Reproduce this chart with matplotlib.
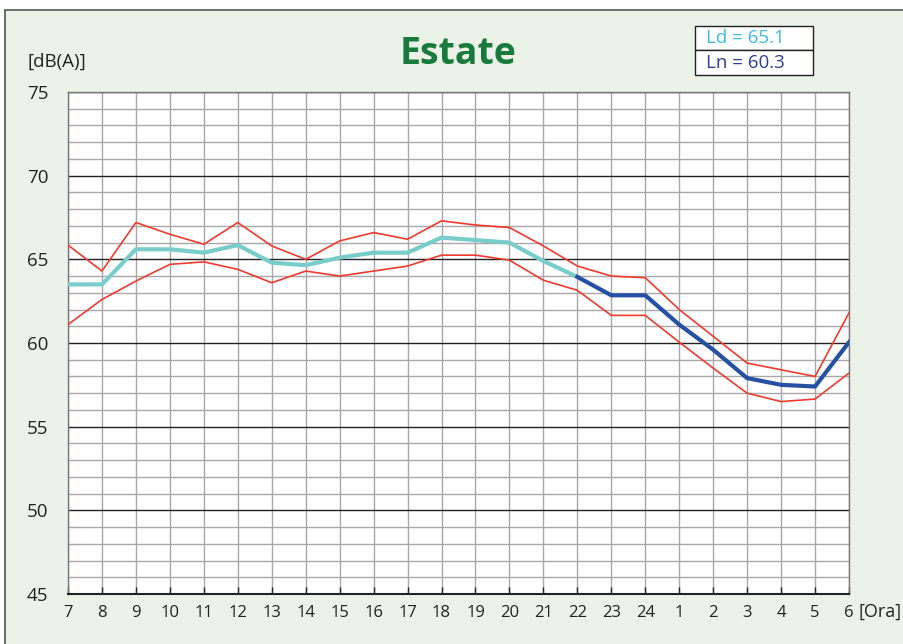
import matplotlib.pyplot as plt
from matplotlib.patches import Rectangle
from matplotlib.ticker import MultipleLocator
from matplotlib import font_manager

# hours on the x axis (day 7-22, night 22-6)
hours = ["7", "8", "9", "10", "11", "12", "13", "14", "15", "16", "17", "18",
         "19", "20", "21", "22", "23", "24", "1", "2", "3", "4", "5", "6"]

# mean hourly level
mean_level = [63.5, 63.5, 65.6, 65.6, 65.4, 65.85, 64.8, 64.65, 65.1, 65.4, 65.4, 66.3,
              66.15, 66.0, 64.9, 63.95, 62.85, 62.85, 61.1, 59.6, 57.9, 57.5, 57.4, 60.05]
# upper and lower band
upper = [65.85, 64.3, 67.2, 66.5, 65.9, 67.2, 65.8, 65.0, 66.1, 66.6, 66.2, 67.3,
         67.05, 66.9, 65.8, 64.6, 64.0, 63.9, 62.0, 60.4, 58.8, 58.4, 58.0, 61.8]
lower = [61.1, 62.6, 63.7, 64.7, 64.85, 64.4, 63.6, 64.3, 64.0, 64.3, 64.6, 65.25,
         65.25, 64.95, 63.75, 63.15, 61.65, 61.65, 60.05, 58.5, 57.0, 56.5, 56.65, 58.2]

ld_text = "Ld = 65.1"
ln_text = "Ln = 60.3"

names = {f.name for f in font_manager.fontManager.ttflist}
base_font = "Open Sans" if "Open Sans" in names else "DejaVu Sans"
title_font = "Liberation Sans Narrow" if "Liberation Sans Narrow" in names else base_font
plt.rcParams['font.family'] = base_font

bg = "#ebf3e8"
fig = plt.figure(figsize=(9.04, 6.44), dpi=100)
fig.patch.set_facecolor("white")
# outer frame
fig.patches.append(Rectangle((5 / 904, -0.01), 1.0, 1 - 10 / 644 + 0.01,
                             transform=fig.transFigure, facecolor=bg,
                             edgecolor="#555555", linewidth=1.2, zorder=-5))

ax = fig.add_axes([68 / 904, 50 / 644, 781 / 904, 502 / 644])
ax.set_zorder(2)
ax.set_facecolor("white")

x = list(range(len(hours)))
day_end = hours.index("22")

ax.plot(x, upper, color="#f03a2e", linewidth=1.2, zorder=3)
ax.plot(x, lower, color="#f03a2e", linewidth=1.2, zorder=3)
ax.plot(x[:day_end + 1], mean_level[:day_end + 1], color="#78cdcb", linewidth=3, zorder=4)
ax.plot(x[day_end:], mean_level[day_end:], color="#2550a3", linewidth=3, zorder=4)

ax.set_xlim(0, len(hours) - 1)
ax.set_ylim(45, 75)
ax.set_xticks(x)
ax.set_xticklabels(hours)
ax.yaxis.set_major_locator(MultipleLocator(5))
ax.yaxis.set_minor_locator(MultipleLocator(1))

ax.grid(which="minor", axis="y", color="#a8a8a8", linewidth=1.0, zorder=1)
ax.grid(which="major", axis="y", color="#222222", linewidth=1.0, zorder=2)
ax.grid(which="major", axis="x", color="#a8a8a8", linewidth=1.0, zorder=1)

ax.tick_params(axis="x", direction="in", length=5, width=1, color="#222222",
               pad=8, labelsize=12, labelcolor="#222222")
ax.tick_params(axis="y", which="both", length=0, pad=14, labelsize=13.5,
               labelcolor="#222222")

for s in ["top", "right", "left"]:
    ax.spines[s].set_color("#777777")
    ax.spines[s].set_linewidth(1.0)
ax.spines["bottom"].set_color("#222222")
ax.spines["bottom"].set_linewidth(1.5)

fig.text(28 / 904, 1 - 62 / 644, "[dB(A)]", fontsize=13.5, color="#222222",
         ha="left", va="center")
fig.text(859 / 904, 1 - 612 / 644, "[Ora]", fontsize=13, color="#222222",
         ha="left", va="center")

fig.text(458 / 904, 1 - 54 / 644, "Estate", fontsize=27, fontweight="bold",
         family=title_font, color="#187a3c", ha="center", va="center")

# Ld / Ln box
bx0, bx1 = 695 / 904, 813 / 904
by_top, by_mid, by_bot = 1 - 26 / 644, 1 - 50 / 644, 1 - 75 / 644
fig.patches.append(Rectangle((bx0, by_mid), bx1 - bx0, by_top - by_mid,
                             transform=fig.transFigure, facecolor="white",
                             edgecolor="#222222", linewidth=1.0))
fig.patches.append(Rectangle((bx0, by_bot), bx1 - bx0, by_mid - by_bot,
                             transform=fig.transFigure, facecolor="white",
                             edgecolor="#222222", linewidth=1.0))
fig.text(706 / 904, (by_top + by_mid) / 2, ld_text, fontsize=13.5, color="#3cbbe6",
         ha="left", va="center")
fig.text(706 / 904, (by_mid + by_bot) / 2, ln_text, fontsize=13.5, color="#2e3f95",
         ha="left", va="center")

fig.savefig("out.png", dpi=100, facecolor=fig.get_facecolor())
